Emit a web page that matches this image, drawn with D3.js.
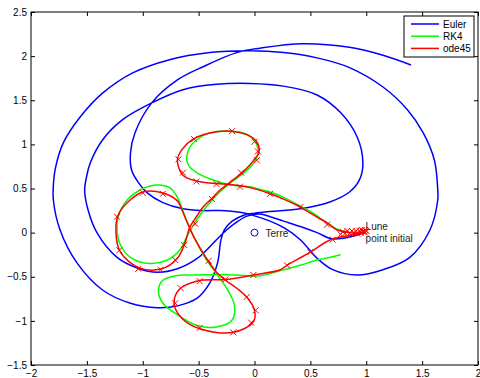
<!DOCTYPE html>
<html>
<head>
<meta charset="utf-8">
<script src="https://cdn.jsdelivr.net/npm/d3@7"></script>
<style>
  body { margin: 0; background: #fff; }
  svg { display: block; font-family: "Liberation Sans", Arial, sans-serif; }
  .tick text { font-size: 10px; fill: #000; }
  .tick line { stroke: #000; }
  path.orbit { fill: none; stroke-width: 1.5; }
  .label { font-size: 10px; fill: #222; }
</style>
</head>
<body>
<svg></svg>
<script>
// tick values and labels
const xTicks = [-2, -1.5, -1, -0.5, 0, 0.5, 1, 1.5, 2]
const xTickLabels = ["−2", "−1.5", "−1", "−0.5", "0", "0.5", "1", "1.5", "2"]
const yTicks = [-1.5, -1, -0.5, 0, 0.5, 1, 1.5, 2, 2.5]
const yTickLabels = ["−1.5", "−1", "−0.5", "0", "0.5", "1", "1.5", "2", "2.5"]

const seriesNames = ["Euler", "RK4", "ode45"]
const seriesColors = ["#0000ff", "#00ff00", "#ff0000"]

// Euler
const euler = [
  [0.994, 0], [0.91, -0.03], [0.81, -0.06], [0.69, -0.07], [0.56, 0.0], [0.41, 0.07],
  [0.26, 0.13], [0.14, 0.18], [0.05, 0.21], [-0.06, 0.19], [-0.16, 0.12], [-0.25, 0.03],
  [-0.34, -0.08], [-0.51, -0.29], [-0.69, -0.41], [-0.87, -0.45], [-1.05, -0.40],
  [-1.23, -0.28], [-1.41, 0.0], [-1.49, 0.26], [-1.52, 0.48], [-1.50, 0.65], [-1.47, 0.79],
  [-1.36, 1.05], [-1.18, 1.28], [-0.92, 1.47], [-0.64, 1.62], [-0.34, 1.68], [-0.04, 1.69],
  [0.26, 1.66], [0.56, 1.56], [0.77, 1.36], [0.92, 1.08], [0.97, 0.79], [0.94, 0.60],
  [0.85, 0.46], [0.68, 0.35], [0.41, 0.27], [0.14, 0.24], [0.0, 0.22], [-0.09, 0.20],
  [-0.20, 0.13], [-0.27, 0.03], [-0.30, -0.08], [-0.33, -0.34], [-0.40, -0.57],
  [-0.51, -0.74], [-0.69, -0.83], [-0.87, -0.85], [-1.11, -0.80], [-1.36, -0.65],
  [-1.59, -0.34], [-1.74, 0.03], [-1.80, 0.37], [-1.80, 0.54], [-1.78, 0.74], [-1.71, 1.02],
  [-1.56, 1.31], [-1.36, 1.58], [-1.09, 1.81], [-0.76, 1.96], [-0.40, 2.04], [-0.04, 2.06],
  [0.26, 2.04], [0.56, 1.98], [0.85, 1.87], [1.15, 1.65], [1.37, 1.39], [1.51, 1.13],
  [1.61, 0.82], [1.64, 0.48], [1.64, 0.37], [1.57, 0.03], [1.39, -0.28], [1.15, -0.42],
  [0.92, -0.48], [0.70, -0.42], [0.56, -0.29], [0.41, -0.08], [0.27, 0.05], [0.14, 0.13],
  [0.0, 0.19], [-0.13, 0.23], [-0.31, 0.25], [-0.46, 0.25], [-0.64, 0.27], [-0.82, 0.34],
  [-0.96, 0.45], [-1.04, 0.57], [-1.10, 0.71], [-1.11, 0.90], [-1.07, 1.13], [-0.92, 1.47],
  [-0.69, 1.73], [-0.46, 1.88], [-0.16, 2.04], [0.05, 2.09], [0.43, 2.14], [0.85, 2.10],
  [1.15, 2.01], [1.40, 1.90]
]

// RK4
const rk4 = [
  [0.994, 0], [0.855, 0.0], [0.74, 0.04], [0.65, 0.11], [0.50, 0.24], [0.41, 0.30],
  [0.26, 0.40], [0.14, 0.46], [0.05, 0.49], [-0.04, 0.52], [-0.16, 0.53], [-0.28, 0.56],
  [-0.40, 0.61], [-0.53, 0.69], [-0.60, 0.79], [-0.59, 0.94], [-0.52, 1.05], [-0.40, 1.13],
  [-0.22, 1.15], [-0.06, 1.11], [0.02, 1.00], [0.03, 0.88], [-0.02, 0.77], [-0.11, 0.66],
  [-0.21, 0.57], [-0.31, 0.46], [-0.42, 0.31], [-0.52, 0.14], [-0.60, -0.03], [-0.67, -0.20],
  [-0.78, -0.31], [-0.94, -0.35], [-1.11, -0.28], [-1.20, -0.14], [-1.23, 0.03],
  [-1.22, 0.18], [-1.14, 0.37], [-1.03, 0.48], [-0.88, 0.54], [-0.76, 0.51], [-0.69, 0.40],
  [-0.65, 0.28], [-0.60, 0.11], [-0.53, -0.08], [-0.44, -0.29], [-0.35, -0.45],
  [-0.24, -0.65], [-0.18, -0.82], [-0.20, -0.99], [-0.34, -1.07], [-0.52, -1.05],
  [-0.69, -0.93], [-0.82, -0.80], [-0.86, -0.65], [-0.82, -0.54], [-0.71, -0.49],
  [-0.55, -0.48], [-0.34, -0.475], [-0.16, -0.48], [0.05, -0.49], [0.26, -0.42],
  [0.41, -0.37], [0.56, -0.31], [0.68, -0.28], [0.77, -0.25]
]

// ode45
const ode45 = [
  [0.994, 0], [0.855, 0.0], [0.74, 0.03], [0.65, 0.11], [0.50, 0.22], [0.41, 0.29],
  [0.26, 0.38], [0.14, 0.44], [-0.04, 0.51], [-0.22, 0.545], [-0.34, 0.556], [-0.52, 0.585],
  [-0.64, 0.65], [-0.69, 0.82], [-0.65, 0.94], [-0.55, 1.06], [-0.40, 1.13], [-0.20, 1.15],
  [-0.07, 1.11], [0.02, 1.03], [0.04, 0.91], [0.01, 0.85], [-0.04, 0.77], [-0.11, 0.68],
  [-0.22, 0.57], [-0.31, 0.48], [-0.38, 0.39], [-0.46, 0.29], [-0.52, 0.18], [-0.58, 0.06],
  [-0.62, -0.11], [-0.69, -0.29], [-0.83, -0.41], [-1.03, -0.40], [-1.20, -0.22],
  [-1.24, 0.0], [-1.22, 0.20], [-1.13, 0.35], [-1.00, 0.46], [-0.82, 0.45], [-0.69, 0.36],
  [-0.65, 0.26], [-0.60, 0.11], [-0.53, -0.08], [-0.43, -0.29], [-0.34, -0.45],
  [-0.26, -0.54], [-0.16, -0.63], [-0.07, -0.73], [0.0, -0.88], [-0.01, -1.01],
  [-0.19, -1.13], [-0.49, -1.09], [-0.65, -0.97], [-0.72, -0.80], [-0.67, -0.64],
  [-0.52, -0.55], [-0.25, -0.53], [-0.01, -0.48], [0.23, -0.42], [0.29, -0.37],
  [0.50, -0.22], [0.68, -0.08], [0.855, -0.03], [0.994, 0]
]

// ode45 step markers
const ode45Steps = [
  [0.65, 0.09], [0.41, 0.29], [0.14, 0.44], [-0.13, 0.52], [-0.34, 0.55], [-0.52, 0.58],
  [-0.64, 0.68], [-0.68, 0.83], [-0.54, 1.06], [-0.20, 1.15], [0.0, 1.03], [0.03, 0.92],
  [0.02, 0.82], [-0.12, 0.68], [-0.38, 0.38], [-0.53, 0.10], [-0.63, -0.14], [-0.71, -0.31],
  [-0.84, -0.42], [-1.04, -0.41], [-1.21, -0.20], [-1.23, 0.18], [-1.00, 0.45],
  [-0.82, 0.44], [-0.41, -0.32], [-0.26, -0.53], [-0.07, -0.73], [0.01, -0.88],
  [-0.03, -1.02], [-0.19, -1.13], [-0.49, -1.08], [-0.71, -0.80], [-0.66, -0.63],
  [-0.49, -0.55], [-0.01, -0.48], [0.29, -0.37], [0.50, -0.22], [0.70, -0.08],
  [0.77, -0.02], [0.79, 0.01], [0.81, -0.01], [0.83, 0.02], [0.85, -0.01], [0.87, 0.02],
  [0.89, 0.0], [0.91, 0.02], [0.92, -0.01], [0.94, 0.02], [0.95, 0.0], [0.96, 0.03],
  [0.97, 0.01], [0.98, 0.02], [0.99, 0.0], [1.0, 0.02], [0.99, 0.03]
]

const earth = [0, 0]
const moon = [0.994, 0]

const svg = d3.select("svg")
  .attr("width", 480)
  .attr("height", 378)

const x = d3.scaleLinear()
  .domain([-2, 2])
  .range([31, 478])

const y = d3.scaleLinear()
  .domain([-1.5, 2.5])
  .range([365, 12])

const line = d3.line()
  .x((d) => { return x(d[0]) })
  .y((d) => { return y(d[1]) })
  .curve(d3.curveCatmullRom.alpha(0.5))

// axes, ticks pointing inward
svg.append("g")
  .attr("transform", "translate(0, 365)")
  .call(d3.axisBottom(x).tickValues(xTicks).tickSizeInner(-4).tickSizeOuter(0).tickPadding(5)
    .tickFormat((d, i) => { return xTickLabels[i] }))

svg.append("g")
  .attr("transform", "translate(31, 0)")
  .call(d3.axisLeft(y).tickValues(yTicks).tickSizeInner(-4).tickSizeOuter(0).tickPadding(4)
    .tickFormat((d, i) => { return yTickLabels[i] }))

svg.append("g")
  .attr("transform", "translate(0, 12)")
  .call(d3.axisTop(x).tickValues(xTicks).tickSizeInner(-4).tickSizeOuter(0).tickFormat(""))

svg.append("g")
  .attr("transform", "translate(478, 0)")
  .call(d3.axisRight(y).tickValues(yTicks).tickSizeInner(-4).tickSizeOuter(0).tickFormat(""))

svg.selectAll(".domain").remove()

svg.append("rect")
  .attr("x", 31)
  .attr("y", 12)
  .attr("width", 447)
  .attr("height", 353)
  .style("fill", "none")
  .style("stroke", "#000")

const plot = svg.append("g")

plot.append("path")
  .datum(euler)
  .attr("class", "orbit")
  .attr("d", line)
  .style("stroke", seriesColors[0])

plot.append("path")
  .datum(rk4)
  .attr("class", "orbit")
  .attr("d", line)
  .style("stroke", seriesColors[1])

plot.append("path")
  .datum(ode45)
  .attr("class", "orbit")
  .attr("d", line)
  .style("stroke", seriesColors[2])

plot.selectAll("path.step")
  .data(ode45Steps)
  .enter()
  .append("path")
  .attr("class", "step")
  .attr("d", (d) => {
    const cx = x(d[0]), cy = y(d[1])
    return `M${cx - 3},${cy - 3}L${cx + 3},${cy + 3}M${cx - 3},${cy + 3}L${cx + 3},${cy - 3}`
  })
  .style("stroke", seriesColors[2])
  .style("stroke-width", 1)

// Terre / Lune
plot.append("circle")
  .attr("cx", x(earth[0]))
  .attr("cy", y(earth[1]))
  .attr("r", 3.5)
  .style("fill", "none")
  .style("stroke", seriesColors[0])
  .style("stroke-width", 1)

plot.append("text")
  .attr("class", "label")
  .attr("x", x(earth[0]) + 11)
  .attr("y", y(earth[1]) + 4)
  .text("Terre")

plot.append("text")
  .attr("class", "label")
  .attr("x", x(moon[0]))
  .attr("y", y(moon[1]) - 3)
  .text("Lune")

plot.append("text")
  .attr("class", "label")
  .attr("x", x(moon[0]))
  .attr("y", y(moon[1]) + 9)
  .text("point initial")

// legend
const legend = svg.append("g")
  .attr("transform", "translate(404, 16)")

legend.append("rect")
  .attr("width", 70)
  .attr("height", 41)
  .style("fill", "#fff")
  .style("stroke", "#000")

const items = legend.selectAll("g.item")
  .data(seriesNames)
  .enter()
  .append("g")
  .attr("class", "item")
  .attr("transform", (d, i) => { return `translate(0, ${8 + i * 12.2})` })

items.append("line")
  .attr("x1", 7)
  .attr("x2", 35)
  .style("stroke", (d, i) => { return seriesColors[i] })
  .style("stroke-width", 1.5)

items.append("text")
  .attr("x", 39)
  .attr("y", 4)
  .style("font-size", "10px")
  .text((d) => { return d })
</script>
</body>
</html>
